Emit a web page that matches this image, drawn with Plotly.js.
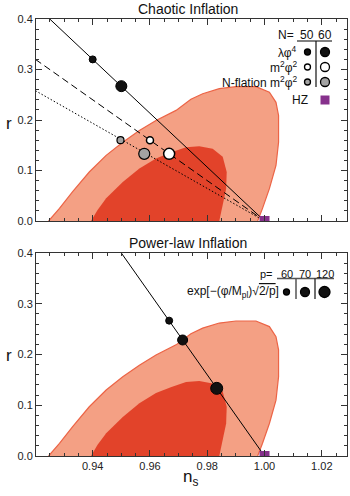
<!DOCTYPE html>
<html>
<head>
<meta charset="utf-8">
<script src="https://cdn.plot.ly/plotly-3.0.1.min.js"></script>
<style>
  html, body { margin: 0; padding: 0; background: #fff; }
  #plot { width: 350px; height: 496px; }
</style>
</head>
<body>
<div id="plot"></div>
<script>
// Planck-like (ns, r) likelihood contours
const outerNs = [0.9246, 0.9284, 0.9330, 0.9388, 0.9447, 0.9505, 0.9563, 0.9621, 0.9691, 0.9743, 0.9784,
                 0.9842, 0.9900, 0.9970, 1.0017, 1.0040, 1.0049, 1.0049, 1.0040, 1.0017, 0.9993, 0.9976];
const outerR  = [0, 0.025, 0.058, 0.097, 0.130, 0.156, 0.179, 0.199, 0.219, 0.241, 0.252,
                 0.262, 0.266, 0.266, 0.255, 0.235, 0.209, 0.156, 0.110, 0.064, 0.025, 0];
const innerNs = [0.9394, 0.9417, 0.9447, 0.9505, 0.9563, 0.9621, 0.9675, 0.9726, 0.9772, 0.9819,
                 0.9854, 0.9868, 0.9866, 0.9854, 0.9842];
const innerR  = [0, 0.022, 0.045, 0.077, 0.104, 0.124, 0.136, 0.146, 0.148, 0.143,
                 0.127, 0.097, 0.064, 0.032, 0];

// chaotic inflation model lines
const phi4LineNs = [0.925, 1.0];
const phi4LineR  = [0.4, 0];
const m2LineNs = [0.92, 1.0];
const m2LineR  = [0.32, 0];
const nflLineNs = [0.92, 1.0];
const nflLineR  = [0.258, 0];

// N = 50, 60 points
const efolds = [50, 60];
const phi4Ns = [0.94, 0.95];
const phi4R  = [0.32, 0.267];
const m2Ns = [0.96, 0.9667];
const m2R  = [0.16, 0.133];
const nflNs = [0.9497, 0.958];
const nflR  = [0.16, 0.133];

// Harrison-Zeldovich
const hzNs = [1.0];
const hzR  = [0];

// power-law inflation
const plLineNs = [0.95, 1.0];
const plLineR  = [0.4, 0];
const pValues = [60, 70, 120];
const plNs = [0.9667, 0.9714, 0.9833];
const plR  = [0.2667, 0.2286, 0.1333];

const nsRange = [0.9202, 1.0288];
const rRange = [0, 0.4];

const FONT = "Liberation Sans, Arial, Helvetica, sans-serif";
const W = 350, H = 496, L = 36, R = 3, T = 19, B = 40;
const pw = W - L - R, ph = H - T - B;
function px(x) { return (x - L) / pw; }
function py(y) { return (H - B - y) / ph; }

const outerFill = "#F4A084", outerEdge = "#EC6446", innerFill = "#E2432A";
const purple = "#86318C";

function panelTraces(xa, ya) {
  return [
    { x: outerNs, y: outerR, xaxis: xa, yaxis: ya, mode: "lines", fill: "toself",
      fillcolor: outerFill, line: { color: outerEdge, width: 1.2 }, hoverinfo: "skip" },
    { x: innerNs, y: innerR, xaxis: xa, yaxis: ya, mode: "lines", fill: "toself",
      fillcolor: innerFill, line: { color: innerFill, width: 0 }, hoverinfo: "skip" }
  ];
}

const traces = [].concat(panelTraces("x2", "y2"), panelTraces("x", "y"));

// top panel lines
traces.push(
  { x: phi4LineNs, y: phi4LineR, xaxis: "x2", yaxis: "y2", mode: "lines", line: { color: "#000", width: 1 } },
  { x: m2LineNs, y: m2LineR, xaxis: "x2", yaxis: "y2", mode: "lines", line: { color: "#000", width: 1, dash: "7px,4px" } },
  { x: nflLineNs, y: nflLineR, xaxis: "x2", yaxis: "y2", mode: "lines", line: { color: "#000", width: 1, dash: "1.5px,2px" } }
);
const sizesN = [7, 11];
traces.push(
  { x: phi4Ns, y: phi4R, xaxis: "x2", yaxis: "y2", mode: "markers",
    marker: { size: sizesN, opacity: 1, color: "#111", line: { color: "#000", width: 1 } } },
  { x: m2Ns, y: m2R, xaxis: "x2", yaxis: "y2", mode: "markers",
    marker: { size: sizesN, opacity: 1, color: "#fff", line: { color: "#000", width: 1.5 } } },
  { x: nflNs, y: nflR, xaxis: "x2", yaxis: "y2", mode: "markers",
    marker: { size: sizesN, opacity: 1, color: "#a3a3a3", line: { color: "#000", width: 1.2 } } },
  { x: hzNs, y: hzR, xaxis: "x2", yaxis: "y2", mode: "markers",
    marker: { symbol: "square", size: 10, opacity: 1, color: purple } }
);

// bottom panel
traces.push(
  { x: plLineNs, y: plLineR, xaxis: "x", yaxis: "y", mode: "lines", line: { color: "#000", width: 1 } },
  { x: plNs, y: plR, xaxis: "x", yaxis: "y", mode: "markers",
    marker: { size: [7, 10, 12], opacity: 1, color: "#111", line: { color: "#000", width: 1 } } },
  { x: hzNs, y: hzR, xaxis: "x", yaxis: "y", mode: "markers",
    marker: { symbol: "square", size: 10, opacity: 1, color: purple } }
);

function xAxis(extra) {
  return Object.assign({
    range: nsRange, tick0: 0.94, dtick: 0.02, tickformat: ".2f",
    ticks: "inside", ticklen: 6, tickcolor: "#333", mirror: "allticks",
    showline: true, linecolor: "#333", linewidth: 1, showgrid: false, zeroline: false,
    minor: { dtick: 0.005, ticks: "inside", ticklen: 3, tickcolor: "#333" },
    tickfont: { family: FONT, size: 11, color: "#222" }
  }, extra);
}
function yAxis(extra) {
  return Object.assign({
    range: rRange, dtick: 0.1, tickformat: ".1f",
    ticks: "inside", ticklen: 6, tickcolor: "#333", mirror: "allticks",
    showline: true, linecolor: "#333", linewidth: 1, showgrid: false, zeroline: false,
    minor: { dtick: 0.02, ticks: "inside", ticklen: 3, tickcolor: "#333" },
    tickfont: { family: FONT, size: 11, color: "#222" }
  }, extra);
}

function txt(text, x, y, size, xanchor) {
  return { text: text, xref: "paper", yref: "paper", x: px(x), y: py(y), showarrow: false,
    xanchor: xanchor || "center", yanchor: "middle", font: { family: FONT, size: size, color: "#111" } };
}
function dot(cx, cy, d, fill) {
  return { type: "circle", xref: "paper", yref: "paper", layer: "above",
    x0: px(cx - d / 2), x1: px(cx + d / 2), y0: py(cy + d / 2), y1: py(cy - d / 2),
    fillcolor: fill, line: { color: "#000", width: 1.3 } };
}
function seg(x0, y0, x1, y1, color, w) {
  return { type: "line", xref: "paper", yref: "paper", layer: "above",
    x0: px(x0), y0: py(y0), x1: px(x1), y1: py(y1), line: { color: color, width: w } };
}

const annotations = [
  txt("Chaotic Inflation", 188, 9, 14),
  txt("Power-law Inflation", 188, 243, 14),
  txt("r", 9, 123, 17),
  txt("r", 9, 355, 17),
  txt("n<sub>s</sub>", 190, 478, 17),
  // top legend
  txt("N=", 296, 35, 12, "right"),
  txt(String(efolds[0]), 306.5, 35, 12),
  txt(String(efolds[1]), 325, 35, 12),
  txt("λφ<sup>4</sup>", 299, 52, 12, "right"),
  txt("m<sup>2</sup>φ<sup>2</sup>", 299, 67, 12, "right"),
  txt("N-flation m<sup>2</sup>φ<sup>2</sup>", 299, 82, 12, "right"),
  txt("HZ", 310, 100, 12, "right"),
  // bottom legend
  txt("p=", 275, 274, 11, "right"),
  txt(String(pValues[0]), 286.5, 274, 11),
  txt(String(pValues[1]), 305, 274, 11),
  txt(String(pValues[2]), 324.5, 274, 11),
  txt("exp[−(φ/M<sub>pl</sub>)√<span style='text-decoration:overline'>2/p</span>]", 281, 292, 12, "right")
];

const shapes = [
  seg(297, 41, 332, 41, "#555", 1.5),
  seg(316, 41, 316, 87, "#111", 1.2),
  dot(307.5, 52, 6, "#111"), dot(325, 52, 9, "#111"),
  dot(307.5, 67, 6, "#fff"), dot(325, 67, 9, "#fff"),
  dot(307.5, 82, 6, "#a3a3a3"), dot(325, 82, 9, "#a3a3a3"),
  { type: "rect", xref: "paper", yref: "paper", layer: "above",
    x0: px(320.5), x1: px(329.5), y0: py(104.5), y1: py(95.5), fillcolor: purple, line: { width: 0 } },
  seg(277, 278.5, 334, 278.5, "#555", 1.5),
  seg(296, 278.5, 296, 299, "#555", 1.5),
  seg(315, 278.5, 315, 299, "#111", 1.2),
  dot(286.5, 292, 6, "#111"), dot(305, 292, 9, "#111"), dot(324.5, 292, 11, "#111")
];

const layout = {
  width: W, height: H,
  margin: { l: L, r: R, t: T, b: B, pad: 0 },
  paper_bgcolor: "#fff", plot_bgcolor: "#fff",
  showlegend: false,
  font: { family: FONT, color: "#111" },
  xaxis: xAxis({ domain: [0, 1], anchor: "y" }),
  yaxis: yAxis({ domain: [0, py(253)], anchor: "x" }),
  xaxis2: xAxis({ domain: [0, 1], anchor: "y2", showticklabels: false }),
  yaxis2: yAxis({ domain: [py(221), 1], anchor: "x2" }),
  annotations: annotations,
  shapes: shapes
};

Plotly.newPlot("plot", traces, layout, { staticPlot: true, displayModeBar: false });
</script>
</body>
</html>
